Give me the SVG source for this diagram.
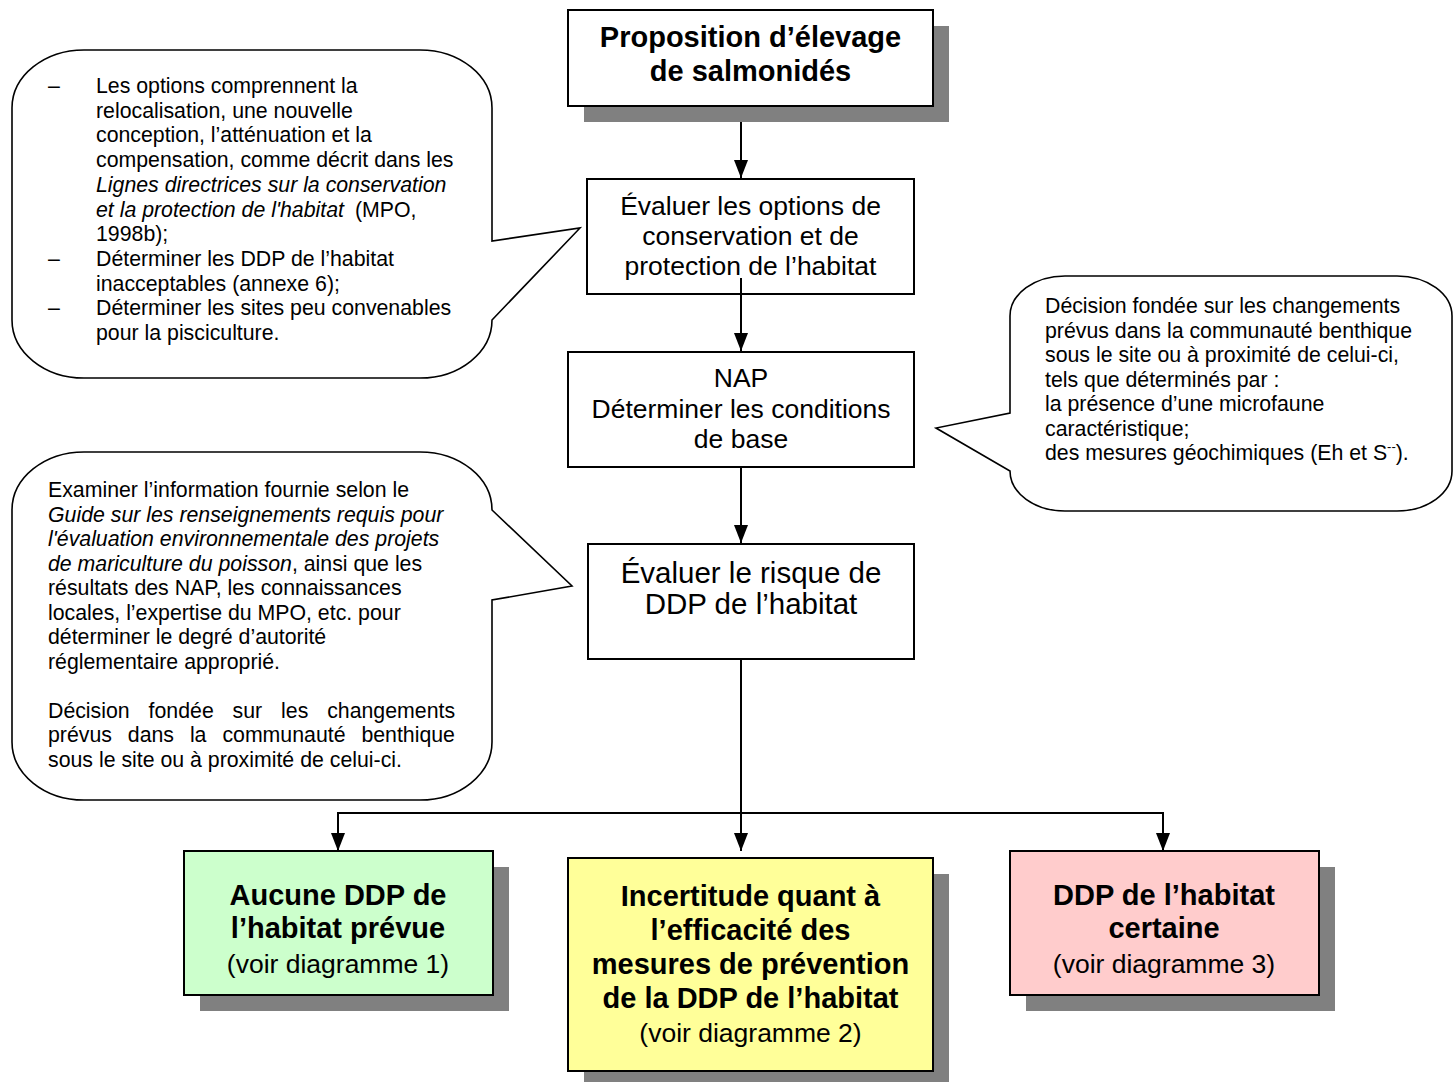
<svg xmlns="http://www.w3.org/2000/svg" width="1454" height="1082" viewBox="0 0 1454 1082">
<style>
.box{stroke:#000;stroke-width:2;}
.shadow{fill:#808080;stroke:none;}
.call{fill:#fff;stroke:#000;stroke-width:1.6;}
.conn{stroke:#000;stroke-width:2;fill:none;}
text{font-family:"Liberation Sans",Arial,sans-serif;fill:#000;}
.t{font-size:26.5px;text-anchor:middle;}
.tl{font-size:29.5px;text-anchor:middle;}
.tb{font-size:29px;font-weight:bold;text-anchor:middle;}
.c{font-size:21.3px;}
.i{font-style:italic;}
</style>
<defs>
<marker id="ah" markerUnits="userSpaceOnUse" markerWidth="18" markerHeight="14" refX="18" refY="7" orient="auto">
<path d="M0,0 L18,7 L0,14 Z" fill="#000"/>
</marker>
</defs>
<rect width="1454" height="1082" fill="#fff"/>

<g id="callout1">
<path class="call" d="M84,50 H420 A72 58 0 0 1 492,108 V241 L580,228 L492,320 A72 58 0 0 1 420,378 H84 A72 58 0 0 1 12,320 V108 A72 58 0 0 1 84,50 Z"/>
<text class="c" x="48" y="93">–</text>
<text class="c" x="96" y="93">Les options comprennent la</text>
<text class="c" x="96" y="117.7">relocalisation, une nouvelle</text>
<text class="c" x="96" y="142.4">conception, l’atténuation et la</text>
<text class="c" x="96" y="167.1">compensation, comme décrit dans les</text>
<text class="c i" x="96" y="191.8">Lignes directrices sur la conservation</text>
<text class="c" x="96" y="216.5"><tspan class="i">et la protection de l'habitat</tspan><tspan dx="5"> (MPO,</tspan></text>
<text class="c" x="96" y="241.2">1998b);</text>
<text class="c" x="48" y="265.9">–</text>
<text class="c" x="96" y="265.9">Déterminer les DDP de l’habitat</text>
<text class="c" x="96" y="290.6">inacceptables (annexe 6);</text>
<text class="c" x="48" y="315.3">–</text>
<text class="c" x="96" y="315.3">Déterminer les sites peu convenables</text>
<text class="c" x="96" y="340">pour la pisciculture.</text>
</g>

<g id="callout2">
<path class="call" d="M1065,276 H1397 A55 40 0 0 1 1452,316 V471 A55 40 0 0 1 1397,511 H1065 A55 40 0 0 1 1010,471 L936,428 L1010,413 V316 A55 40 0 0 1 1065,276 Z"/>
<text class="c" x="1045" y="313">Décision fondée sur les changements</text>
<text class="c" x="1045" y="337.5">prévus dans la communauté benthique</text>
<text class="c" x="1045" y="362">sous le site ou à proximité de celui-ci,</text>
<text class="c" x="1045" y="386.5">tels que déterminés par :</text>
<text class="c" x="1045" y="411">la présence d’une microfaune</text>
<text class="c" x="1045" y="435.5">caractéristique;</text>
<text class="c" x="1045" y="460">des mesures géochimiques (Eh et S<tspan font-size="13" dy="-9">--</tspan><tspan dy="9">).</tspan></text>
</g>

<g id="callout3">
<path class="call" d="M84,452 H420 A72 58 0 0 1 492,510 L572,586 L492,600 V742 A72 58 0 0 1 420,800 H84 A72 58 0 0 1 12,742 V510 A72 58 0 0 1 84,452 Z"/>
<text class="c" x="48" y="497">Examiner l’information fournie selon le</text>
<text class="c i" x="48" y="521.5">Guide sur les renseignements requis pour</text>
<text class="c i" x="48" y="546">l'évaluation environnementale des projets</text>
<text class="c" x="48" y="570.5"><tspan class="i">de mariculture du poisson</tspan>, ainsi que les</text>
<text class="c" x="48" y="595">résultats des NAP, les connaissances</text>
<text class="c" x="48" y="619.5">locales, l’expertise du MPO, etc. pour</text>
<text class="c" x="48" y="644">déterminer le degré d’autorité</text>
<text class="c" x="48" y="668.5">réglementaire approprié.</text>
<text class="c" y="717.5"><tspan x="48">Décision</tspan> <tspan x="148.6">fondée</tspan> <tspan x="232.6">sur</tspan> <tspan x="281.1">les</tspan> <tspan x="327.2">changements</tspan></text>
<text class="c" y="742"><tspan x="48">prévus</tspan> <tspan x="127.8">dans</tspan> <tspan x="189.9">la</tspan> <tspan x="222.4">communauté</tspan> <tspan x="361.4">benthique</tspan></text>
<text class="c" x="48" y="766.5">sous le site ou à proximité de celui-ci.</text>
</g>

<g id="connectors">
<line class="conn" x1="741" y1="106" x2="741" y2="178" marker-end="url(#ah)"/>
<line class="conn" x1="741" y1="278" x2="741" y2="351" marker-end="url(#ah)"/>
<line class="conn" x1="741" y1="467" x2="741" y2="543" marker-end="url(#ah)"/>
<line class="conn" x1="741" y1="659" x2="741" y2="851" marker-end="url(#ah)"/>
<polyline class="conn" points="338,851 338,813 1163,813 1163,851" marker-end="url(#ah)"/>
<line class="conn" x1="338" y1="813" x2="338" y2="851" marker-end="url(#ah)"/>
</g>

<g id="n1">
<rect class="shadow" x="584" y="26" width="365" height="96"/>
<rect class="box" x="568" y="10" width="365" height="96" fill="#fff"/>
<text class="tb" x="750.5" y="47">Proposition d’élevage</text>
<text class="tb" x="750.5" y="81">de salmonidés</text>
</g>

<g id="n2">
<rect class="box" x="587" y="179" width="327" height="115" fill="#fff"/>
<text class="t" x="750.5" y="215">Évaluer les options de</text>
<text class="t" x="750.5" y="245">conservation et de</text>
<text class="t" x="750.5" y="275">protection de l’habitat</text>
</g>
<line class="conn" x1="741" y1="278" x2="741" y2="294"/>

<g id="n3">
<rect class="box" x="568" y="352" width="346" height="115" fill="#fff"/>
<text class="t" x="741" y="387">NAP</text>
<text class="t" x="741" y="418">Déterminer les conditions</text>
<text class="t" x="741" y="448">de base</text>
</g>

<g id="n4">
<rect class="box" x="588" y="544" width="326" height="115" fill="#fff"/>
<text class="tl" x="751" y="583">Évaluer le risque de</text>
<text class="tl" x="751" y="614">DDP de l’habitat</text>
</g>

<g id="n5">
<rect class="shadow" x="200" y="867" width="309" height="144"/>
<rect class="box" x="184" y="851" width="309" height="144" fill="#CCFFCC"/>
<text class="tb" x="338" y="905">Aucune DDP de</text>
<text class="tb" x="338" y="938">l’habitat prévue</text>
<text class="t" x="338" y="973">(voir diagramme 1)</text>
</g>

<g id="n6">
<rect class="shadow" x="584" y="874" width="365" height="213"/>
<rect class="box" x="568" y="858" width="365" height="213" fill="#FFFF99"/>
<text class="tb" x="750.5" y="906">Incertitude quant à</text>
<text class="tb" x="750.5" y="940">l’efficacité des</text>
<text class="tb" x="750.5" y="974">mesures de prévention</text>
<text class="tb" x="750.5" y="1008">de la DDP de l’habitat</text>
<text class="t" x="750.5" y="1042">(voir diagramme 2)</text>
</g>

<g id="n7">
<rect class="shadow" x="1026" y="867" width="309" height="144"/>
<rect class="box" x="1010" y="851" width="309" height="144" fill="#FFCCCC"/>
<text class="tb" x="1164" y="905">DDP de l’habitat</text>
<text class="tb" x="1164" y="938">certaine</text>
<text class="t" x="1164" y="973">(voir diagramme 3)</text>
</g>
</svg>
